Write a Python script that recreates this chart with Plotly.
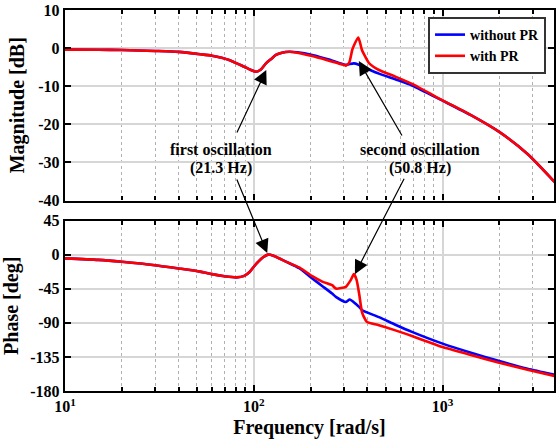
import math
import plotly.graph_objects as go

# ---------------- data ----------------
mag_w_blue = [10, 15, 20, 30, 40, 52, 60, 74, 89, 98, 103, 109, 116, 124, 131, 141, 154, 170, 204, 250,
              300, 307, 320, 339, 357, 374, 407, 460, 562, 689, 1000, 1413, 1995, 2818, 3981]
mag_db_blue = [-0.4, -0.45, -0.5, -0.75, -1.0, -1.6, -2.0, -3.1, -4.9, -5.9, -6.2, -5.6, -4.0, -2.8, -1.8, -1.2, -0.95, -1.1, -1.8, -3.0,
               -4.3, -4.4, -4.2, -4.0, -4.3, -4.8, -5.6, -6.7, -8.2, -9.8, -13.8, -17.6, -22.0, -27.8, -35.5]

mag_w_red = [10, 15, 20, 30, 40, 52, 60, 74, 89, 98, 103, 109, 116, 124, 131, 141, 154, 170, 204, 250,
             300, 307, 320, 332, 340, 357, 365, 374, 407, 430, 460, 562, 689, 1000, 1413, 1995, 2818, 3981]
mag_db_red = [-0.4, -0.45, -0.5, -0.75, -1.0, -1.6, -2.0, -3.1, -4.9, -5.9, -6.2, -5.6, -4.0, -2.8, -1.8, -1.2, -0.95, -1.2, -2.1, -3.3,
              -4.4, -4.6, -3.8, -0.5, 0.8, 2.8, 1.5, -0.5, -3.9, -4.9, -5.75, -7.5, -9.4, -13.7, -17.6, -22.0, -27.8, -35.5]

ph_w_blue = [10, 15, 20, 30, 40, 52, 60, 70, 81, 89, 95, 100, 106, 112, 119, 127, 135, 150, 174, 204, 232, 260,
             272, 307, 322, 345, 361, 375, 460, 562, 688, 1000, 1413, 1995, 2818, 3981]
ph_deg_blue = [-5, -7, -9.5, -14, -18.3, -22.5, -25.8, -28.5, -30, -28, -23, -16, -9, -3.5, 0, -1.5, -4.5, -10, -18, -31.5, -42, -51.4,
               -55.8, -62.5, -59.3, -64.6, -69, -73.4, -82.5, -92.5, -102, -117.5, -129.5, -140.5, -150.5, -158.8]

ph_w_red = [10, 15, 20, 30, 40, 52, 60, 70, 81, 89, 95, 100, 106, 112, 119, 127, 135, 150, 174, 204, 232, 260,
            272, 300, 307, 326, 339, 350, 361, 375, 390, 398, 460, 562, 688, 1000, 1413, 1995, 2818, 3981]
ph_deg_red = [-5, -7, -9.5, -14, -18.3, -22.5, -25.8, -28.5, -30, -28, -23, -16, -9, -3.5, 0, -1.5, -4.5, -10, -17, -28.5, -36, -40.4,
              -44.8, -43.5, -42.6, -33.7, -25.8, -33, -51, -77, -86, -89, -93.3, -100, -107.5, -122, -132.5, -142.7, -152, -160.5]

x_tick_vals = [10, 100, 1000]
x_tick_text = ["10<sup>1</sup>", "10<sup>2</sup>", "10<sup>3</sup>"]
mag_ticks = [10, 0, -10, -20, -30, -40]
ph_ticks = [45, 0, -45, -90, -135, -180]
series_names = ["without PR", "with PR"]

# ---------------- figure ----------------
FONT = "Liberation Serif, Times New Roman, serif"
BLUE = "#0000ff"
RED = "#ff0000"
LW = 2.6

fig = go.Figure()
fig.add_trace(go.Scatter(x=mag_w_blue, y=mag_db_blue, name=f"<b>{series_names[0]}</b>", mode="lines",
                         line=dict(color=BLUE, width=LW, shape="spline", smoothing=0.6),
                         xaxis="x", yaxis="y", legendrank=1))
fig.add_trace(go.Scatter(x=mag_w_red, y=mag_db_red, name=f"<b>{series_names[1]}</b>", mode="lines",
                         line=dict(color=RED, width=LW, shape="spline", smoothing=0.6),
                         xaxis="x", yaxis="y", legendrank=2))
fig.add_trace(go.Scatter(x=ph_w_blue, y=ph_deg_blue, name=series_names[0], mode="lines",
                         line=dict(color=BLUE, width=LW, shape="spline", smoothing=0.6),
                         xaxis="x2", yaxis="y2", showlegend=False))
fig.add_trace(go.Scatter(x=ph_w_red, y=ph_deg_red, name=series_names[1], mode="lines",
                         line=dict(color=RED, width=LW, shape="spline", smoothing=0.6),
                         xaxis="x2", yaxis="y2", showlegend=False))

minor_vals = [m * 10 ** e for e in range(1, 4) for m in range(2, 10)]

def xaxis_common(show_labels):
    return dict(
        type="log", range=[1, 3.59],
        tickvals=x_tick_vals,
        ticktext=[f"<b>{t}</b>" for t in x_tick_text],
        showticklabels=show_labels,
        ticks="inside", ticklen=6, tickwidth=1.5, tickcolor="black",
        showline=True, linewidth=2.4, linecolor="black", mirror="allticks",
        showgrid=True, gridcolor="#d6d6d6", gridwidth=1.5,
        minor=dict(tickvals=minor_vals, ticks="inside", ticklen=4, tickcolor="black",
                   showgrid=True, gridcolor="#b0b0b0", griddash="dot", gridwidth=1),
        zeroline=False,
        tickfont=dict(family=FONT, size=16, color="black"),
    )

xa1 = xaxis_common(False)
xa1.update(anchor="y", domain=[0, 1], matches="x2")
xa2 = xaxis_common(True)
xa2.update(anchor="y2", domain=[0, 1],
           title=dict(text="<b>Frequency [rad/s]</b>", font=dict(family=FONT, size=20, color="black"), standoff=6))

def yaxis_common(rng, ticks, title, domain, anchor):
    return dict(
        range=rng, tickvals=ticks, ticktext=[f"<b>{t}</b>" for t in ticks],
        domain=domain, anchor=anchor,
        ticks="inside", ticklen=6, tickwidth=1.5, tickcolor="black",
        showline=True, linewidth=2.4, linecolor="black", mirror="allticks",
        showgrid=True, gridcolor="#d6d6d6", gridwidth=1.5, zeroline=False,
        tickfont=dict(family=FONT, size=16, color="black"),
        title=dict(text=f"<b>{title}</b>", font=dict(family=FONT, size=20, color="black"), standoff=8),
    )

fig.update_layout(
    width=558, height=443,
    margin=dict(l=65, r=2, t=10, b=52),
    paper_bgcolor="white", plot_bgcolor="white",
    xaxis=xa1, xaxis2=xa2,
    yaxis=yaxis_common([-40, 10], mag_ticks, "Magnitude [dB]", [0.5, 1], "x"),
    yaxis2=yaxis_common([-180, 45], ph_ticks, "Phase [deg]", [0, 0.4475], "x2"),
    showlegend=True,
    legend=dict(x=0.9837, y=0.9816, xanchor="right", yanchor="top",
                bgcolor="white", bordercolor="#333333", borderwidth=2,
                font=dict(family=FONT, size=14, color="black"),
                tracegroupgap=0, itemwidth=30),
)

# ---- annotations ----
ann_font = dict(family=FONT, size=16, color="black")
texts = [
    dict(x=222, y=149, text="<b>first oscillation</b>"),
    dict(x=222, y=168, text="<b>(21.3 Hz)</b>"),
    dict(x=421, y=149, text="<b>second oscillation</b>"),
    dict(x=421, y=168, text="<b>(50.8 Hz)</b>"),
]
for t in texts:
    fig.add_annotation(xref="paper", yref="paper",
                       x=(t["x"] - 65) / 491, y=(391 - t["y"]) / 381,
                       text=t["text"], showarrow=False, font=ann_font,
                       xanchor="center", yanchor="middle")

arrows = [
    dict(xr="x", yr="y", x=116.4, y=-5.75, ax=-30, ay=64),
    dict(xr="x2", yr="y2", x=117.8, y=2.0, ax=-31, ay=-75),
    dict(xr="x", yr="y", x=360, y=-3.4, ax=44, ay=76),
    dict(xr="x2", yr="y2", x=343, y=-25.8, ax=50, ay=-97),
]
for a in arrows:
    fig.add_annotation(xref=a["xr"], yref=a["yr"], x=math.log10(a["x"]), y=a["y"],
                       ax=a["ax"], ay=a["ay"], axref="pixel", ayref="pixel",
                       text="", showarrow=True, arrowhead=2, arrowsize=2.3,
                       arrowwidth=1.2, arrowcolor="black", standoff=0, startstandoff=0)

fig.write_html("out.html")
